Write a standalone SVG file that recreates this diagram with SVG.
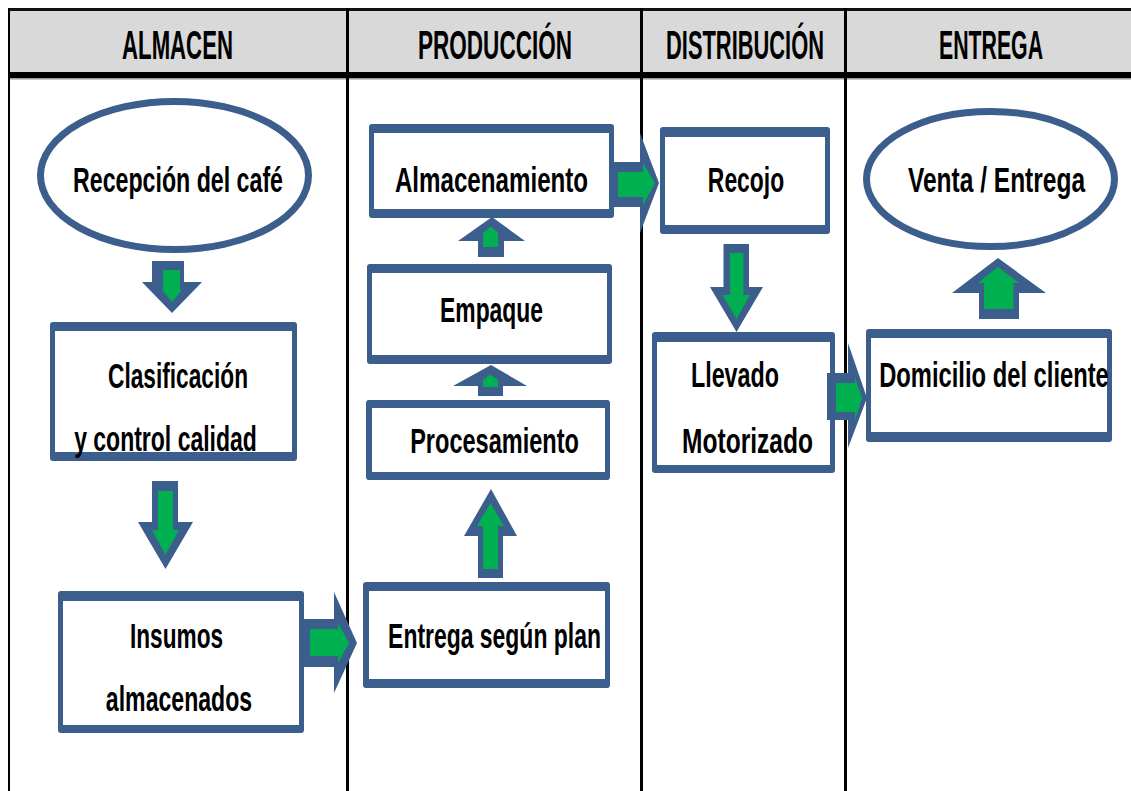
<svg xmlns="http://www.w3.org/2000/svg" width="1131" height="791" viewBox="0 0 1131 791">
<style>
.o{fill:#3B5E8C}
.g{fill:#00B050}
.w{fill:#FFFFFF}
.el{fill:#FFFFFF;stroke:#3B5E8C;stroke-width:7}
.t{font-family:"Liberation Sans",Arial,sans-serif;font-weight:bold;font-size:36px;fill:#000;text-anchor:middle}
.h{font-family:"Liberation Sans",Arial,sans-serif;font-weight:bold;font-size:40px;fill:#000;text-anchor:middle}
.ln{stroke:#000;stroke-width:3}
</style>
<rect x="0" y="0" width="1131" height="791" fill="#FFFFFF"/>
<g id="lanes">
  <rect x="9" y="10" width="1122" height="63" fill="#D9D9D9"/>
  <rect x="8" y="8" width="1123" height="3" fill="#111"/>
  <rect x="8" y="72" width="1123" height="6" fill="#000"/>
  <rect x="8" y="78" width="1123" height="1.5" fill="#9A9A9A"/>
  <line x1="9" y1="8" x2="9" y2="791" stroke="#000" stroke-width="2"/>
  <line class="ln" x1="347.5" y1="8" x2="347.5" y2="791"/>
  <line class="ln" x1="641.5" y1="8" x2="641.5" y2="791"/>
  <line class="ln" x1="845.5" y1="8" x2="845.5" y2="791"/>
  <text class="h" transform="translate(177.5,59) scale(0.56,1)" textLength="198" lengthAdjust="spacingAndGlyphs">ALMACEN</text>
  <text class="h" transform="translate(495,59) scale(0.56,1)" textLength="275" lengthAdjust="spacingAndGlyphs">PRODUCCIÓN</text>
  <text class="h" transform="translate(745,59) scale(0.56,1)" textLength="282" lengthAdjust="spacingAndGlyphs">DISTRIBUCIÓN</text>
  <text class="h" transform="translate(991,59) scale(0.56,1)" textLength="186" lengthAdjust="spacingAndGlyphs">ENTREGA</text>
</g>
<g id="n-recepcion">
  <ellipse class="el" cx="174.5" cy="175.5" rx="134" ry="74"/>
  <text class="t" transform="translate(178,192) scale(0.7,1)" textLength="300" lengthAdjust="spacingAndGlyphs">Recepción del café</text>
</g>
<g id="n-clasificacion">
  <rect class="o" x="50" y="322" width="247" height="139" rx="3"/>
  <rect class="w" x="55" y="331" width="237" height="121"/>
  <text class="t" transform="translate(178,388) scale(0.7,1)" textLength="200" lengthAdjust="spacingAndGlyphs">Clasificación</text>
  <text class="t" transform="translate(165.5,451) scale(0.7,1)" textLength="261" lengthAdjust="spacingAndGlyphs">y control calidad</text>
</g>
<g id="n-insumos">
  <rect class="o" x="58" y="591" width="246" height="142" rx="3"/>
  <rect class="w" x="63" y="601" width="236" height="124"/>
  <text class="t" transform="translate(176.5,648) scale(0.7,1)" textLength="133" lengthAdjust="spacingAndGlyphs">Insumos</text>
  <text class="t" transform="translate(179,711) scale(0.7,1)" textLength="209" lengthAdjust="spacingAndGlyphs">almacenados</text>
</g>
<g id="n-entrega-plan">
  <rect class="o" x="363" y="582" width="247" height="106" rx="3"/>
  <rect class="w" x="369" y="591" width="236" height="88"/>
  <text class="t" transform="translate(494.5,648) scale(0.7,1)" textLength="304" lengthAdjust="spacingAndGlyphs">Entrega según plan</text>
</g>
<g id="n-procesamiento">
  <rect class="o" x="366" y="400" width="244" height="80" rx="3"/>
  <rect class="w" x="372" y="408" width="233" height="64"/>
  <text class="t" transform="translate(494.5,453) scale(0.7,1)" textLength="241" lengthAdjust="spacingAndGlyphs">Procesamiento</text>
</g>
<g id="n-empaque">
  <rect class="o" x="367" y="264" width="245" height="100" rx="3"/>
  <rect class="w" x="372" y="273" width="235" height="82"/>
  <text class="t" transform="translate(491.5,322) scale(0.7,1)" textLength="147" lengthAdjust="spacingAndGlyphs">Empaque</text>
</g>
<g id="n-almacenamiento">
  <rect class="o" x="369" y="124" width="245" height="94" rx="3"/>
  <rect class="w" x="374" y="133" width="235" height="76"/>
  <text class="t" transform="translate(491.5,192) scale(0.7,1)" textLength="276" lengthAdjust="spacingAndGlyphs">Almacenamiento</text>
</g>
<g id="n-recojo">
  <rect class="o" x="660" y="127" width="170" height="107" rx="3"/>
  <rect class="w" x="665" y="137" width="160" height="88"/>
  <text class="t" transform="translate(746,192) scale(0.7,1)" textLength="109" lengthAdjust="spacingAndGlyphs">Recojo</text>
</g>
<g id="n-llevado">
  <rect class="o" x="652" y="332" width="183" height="141" rx="3"/>
  <rect class="w" x="657" y="342" width="173" height="123"/>
  <text class="t" transform="translate(735,387) scale(0.7,1)" textLength="126" lengthAdjust="spacingAndGlyphs">Llevado</text>
  <text class="t" transform="translate(747.5,453) scale(0.7,1)" textLength="187" lengthAdjust="spacingAndGlyphs">Motorizado</text>
</g>
<g id="n-domicilio">
  <rect class="o" x="866" y="329" width="246" height="113" rx="3"/>
  <rect class="w" x="871" y="338" width="236" height="94"/>
  <text class="t" transform="translate(994,387) scale(0.7,1)" textLength="328" lengthAdjust="spacingAndGlyphs">Domicilio del cliente</text>
</g>
<g id="n-venta">
  <ellipse class="el" cx="990.5" cy="179" rx="124" ry="67.5"/>
  <text class="t" transform="translate(996.5,192) scale(0.7,1)" textLength="253" lengthAdjust="spacingAndGlyphs">Venta / Entrega</text>
</g>
<g id="connectors">
  <g id="c1">
    <polygon class="o" points="152,261 184,261 184,282 202,282 172,313 142,282 152,282"/>
    <polygon class="g" points="163,270 180,270 180,290 182,290 172,302 162,290 163,290"/>
  </g>
  <g id="c2">
    <polygon class="o" points="152,481 178,481 178,522 193,522 165.5,569 138,522 152,522"/>
    <polygon class="g" points="158,491 173,491 173,530 179,530 165.5,555 152,530 158,530"/>
  </g>
  <g id="c3">
    <polygon class="o" points="304,619 334,619 334,592 357,643 334,693 334,667 304,667"/>
    <polygon class="g" points="310,629 338,629 338,623 349,643 338,663 338,656 310,656"/>
  </g>
  <g id="c4">
    <polygon class="o" points="478,578 478,536 464,536 491,489 517,536 503,536 503,578"/>
    <polygon class="g" points="483,569 483,526 477,526 490.5,503 504,526 498,526 498,569"/>
  </g>
  <g id="c5">
    <polygon class="o" points="478,396 478,386 453,386 491,365 527,386 503,386 503,396"/>
    <polygon class="g" points="483,387 483,380 490.5,374.5 498,380 498,387"/>
  </g>
  <g id="c6">
    <polygon class="o" points="478,257 478,241 458,241 492,217 525,241 504,241 504,257"/>
    <polygon class="g" points="483,247 483,233 491,226.5 498,233 498,247"/>
  </g>
  <g id="c7">
    <polygon class="o" points="613,162 640,162 640,133 659,183 640,233 640,207 613,207"/>
    <polygon class="g" points="618,172 643,172 643,163 655,183 643,205 643,197 618,197"/>
  </g>
  <g id="c8">
    <polygon class="o" points="723.5,244 749,244 749,287 763,287 736.5,332 710,287 723.5,287"/>
    <polygon class="g" points="730,253 743.5,253 743.5,295 750,295 736.5,319 722.5,295 730,295"/>
  </g>
  <g id="c9">
    <polygon class="o" points="827,373 848,373 848,343 867,398 848,448 848,420 827,420"/>
    <polygon class="g" points="836,383 855,383 855,377 862,398 855,420 855,412 836,412"/>
  </g>
  <g id="c10">
    <polygon class="o" points="979,319 979,293 952,293 998,258 1046,293 1019,293 1019,319"/>
    <polygon class="g" points="984,309 984,283 978,283 998,267 1019,283 1013.5,283 1013.5,309"/>
  </g>
</g>
</svg>
